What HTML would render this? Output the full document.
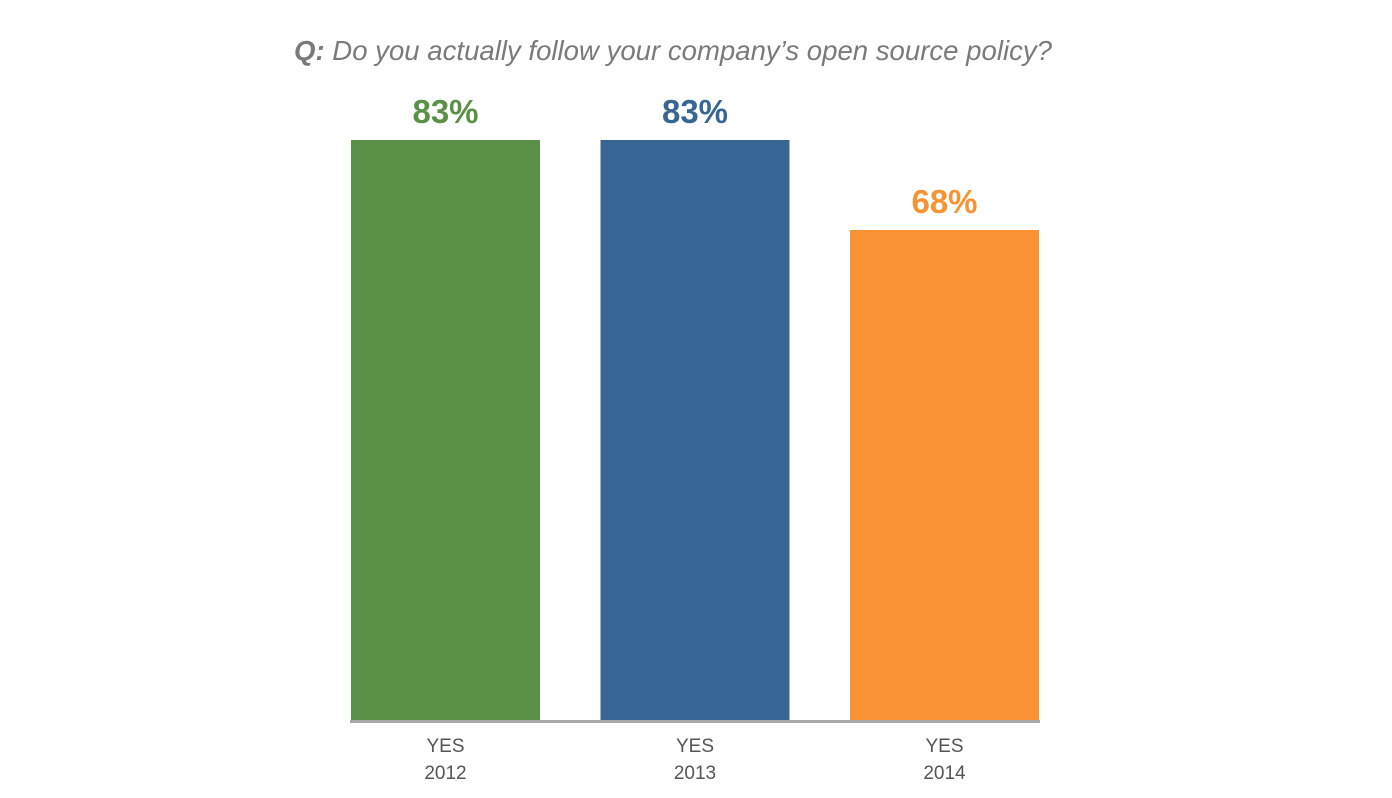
<!DOCTYPE html>
<html><head><meta charset="utf-8"><style>
html,body{margin:0;padding:0;background:#fff;}
svg{display:block;}
</style></head><body>
<svg id="chart" width="1392" height="798" xmlns="http://www.w3.org/2000/svg">
<text x="294" y="60" textLength="758" lengthAdjust="spacingAndGlyphs" font-family="Liberation Sans, sans-serif" font-style="italic" font-size="28" fill="#7a7a7a"><tspan font-weight="bold">Q:</tspan> Do you actually follow your company’s open source policy?</text>
<g id="bars"></g>
<line x1="350" y1="721.5" x2="1040" y2="721.5" stroke="#a8a8a8" stroke-width="3"/>
</svg>
<script>
const categories = ["2012", "2013", "2014"];
const values = [83, 83, 68];
const valueLabels = ["83%", "83%", "68%"];
const colors = ["#5a9147", "#376695", "#f79333"];

const baseY = 720, barW = 189, step = 249.5, x0 = 351;
const pxPerUnit = 6, domainMin = -13.67;
function yScale(v){ return baseY - pxPerUnit * (v - domainMin); }
function xScale(i){ return x0 + i * step; }

const g = document.getElementById('bars');
const ns = 'http://www.w3.org/2000/svg';
categories.forEach((c, i) => {
  const x = xScale(i), y = yScale(values[i]);
  const r = document.createElementNS(ns, 'rect');
  
  
  r.setAttribute('x', x); r.setAttribute('y', y);
  r.setAttribute('width', barW); r.setAttribute('height', baseY - y);
  r.setAttribute('fill', colors[i]);
  g.appendChild(r);

  const t = document.createElementNS(ns, 'text');
  
  
  t.setAttribute('x', x + barW / 2); t.setAttribute('y', y - 17);
  t.setAttribute('text-anchor', 'middle');
  t.setAttribute('font-family', 'Liberation Sans, sans-serif');
  t.setAttribute('font-weight', 'bold');
  t.setAttribute('font-size', '33');
  t.setAttribute('fill', colors[i]);
  t.textContent = valueLabels[i];
  g.appendChild(t);

  const l1 = document.createElementNS(ns, 'text');
  
  
  l1.setAttribute('x', x + barW / 2); l1.setAttribute('y', 752);
  l1.setAttribute('text-anchor', 'middle');
  l1.setAttribute('font-family', 'Liberation Sans, sans-serif');
  l1.setAttribute('font-size', '19');
  l1.setAttribute('fill', '#555');
  l1.textContent = 'YES';
  g.appendChild(l1);

  const l2 = document.createElementNS(ns, 'text');
  
  
  l2.setAttribute('x', x + barW / 2); l2.setAttribute('y', 779);
  l2.setAttribute('text-anchor', 'middle');
  l2.setAttribute('font-family', 'Liberation Sans, sans-serif');
  l2.setAttribute('font-size', '19');
  l2.setAttribute('fill', '#555');
  l2.textContent = c;
  g.appendChild(l2);
});
</script>
</body></html>
